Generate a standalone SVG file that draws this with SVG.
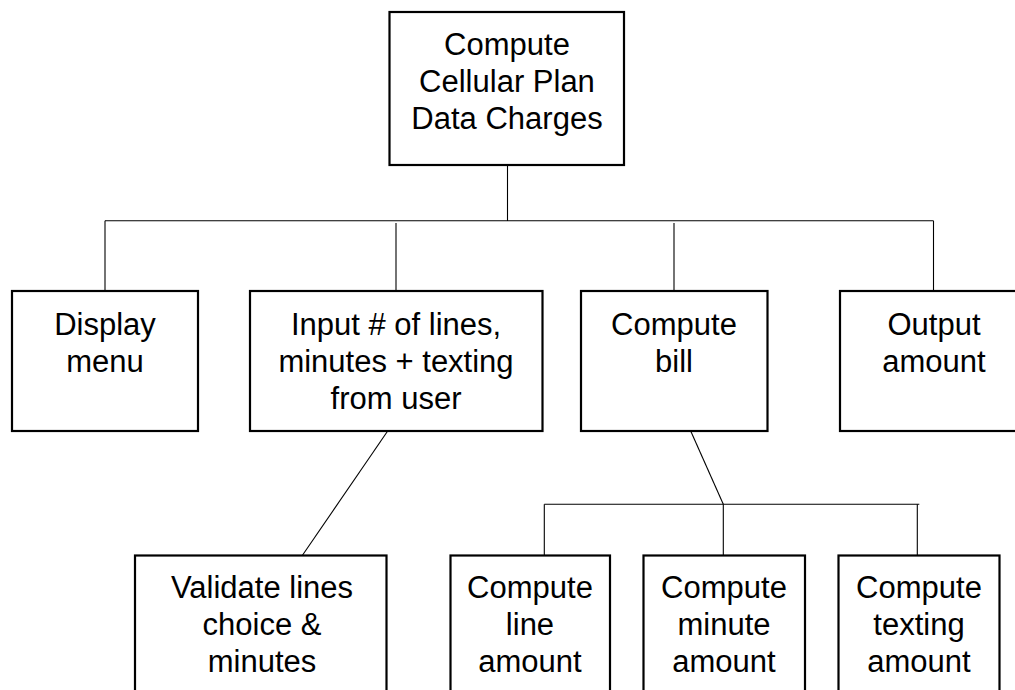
<svg xmlns="http://www.w3.org/2000/svg" width="1015" height="690" viewBox="0 0 1015 690">
  <style>
    .box { fill: #ffffff; stroke: #000000; stroke-width: 2.2; }
    .lbl { font-family: "Liberation Sans", Arial, Helvetica, sans-serif; font-size: 31px; fill: #000000; text-anchor: middle; }
    .wire { fill: none; stroke: #000000; stroke-width: 1.1; }
  </style>
  <rect width="1015" height="690" fill="#ffffff"/>

  <!-- connectors -->
  <g id="connectors">
    <path class="wire" d="M507.5 165 V221"/>
    <path class="wire" d="M105 220.8 H933.5"/>
    <path class="wire" d="M105 220.8 V291"/>
    <path class="wire" d="M396 223 V291"/>
    <path class="wire" d="M674 223 V291"/>
    <path class="wire" d="M933.5 220.8 V291"/>
    <path class="wire" d="M387.7 431 L302.3 555.5"/>
    <path class="wire" d="M690.7 431 L723.3 504.3"/>
    <path class="wire" d="M544.3 504.3 H919.3"/>
    <path class="wire" d="M544.3 504.3 V555.5"/>
    <path class="wire" d="M723.3 504.3 V555.5"/>
    <path class="wire" d="M917.3 504.3 V555.5"/>
  </g>

  <g id="root">
    <rect class="box" x="389.5" y="12" width="234.5" height="153"/>
    <text class="lbl" x="507" y="55">Compute</text>
    <text class="lbl" x="507" y="92">Cellular Plan</text>
    <text class="lbl" x="507" y="129">Data Charges</text>
  </g>

  <g id="display-menu">
    <rect class="box" x="12" y="291" width="186" height="140"/>
    <text class="lbl" x="105" y="335">Display</text>
    <text class="lbl" x="105" y="372">menu</text>
  </g>

  <g id="input">
    <rect class="box" x="250" y="291" width="292.5" height="140"/>
    <text class="lbl" x="396" y="335">Input # of lines,</text>
    <text class="lbl" x="396" y="372">minutes + texting</text>
    <text class="lbl" x="396" y="409">from user</text>
  </g>

  <g id="compute-bill">
    <rect class="box" x="581" y="291" width="186.5" height="140"/>
    <text class="lbl" x="674" y="335">Compute</text>
    <text class="lbl" x="674" y="372">bill</text>
  </g>

  <g id="output-amount">
    <rect class="box" x="840" y="291" width="200" height="140"/>
    <text class="lbl" x="934" y="335">Output</text>
    <text class="lbl" x="934" y="372">amount</text>
  </g>

  <g id="validate">
    <rect class="box" x="135" y="555.5" width="251.5" height="150"/>
    <text class="lbl" x="262" y="598">Validate lines</text>
    <text class="lbl" x="262" y="635">choice &amp;</text>
    <text class="lbl" x="262" y="672">minutes</text>
  </g>

  <g id="line-amount">
    <rect class="box" x="450.5" y="555.5" width="159.5" height="150"/>
    <text class="lbl" x="530" y="598">Compute</text>
    <text class="lbl" x="530" y="635">line</text>
    <text class="lbl" x="530" y="672">amount</text>
  </g>

  <g id="minute-amount">
    <rect class="box" x="643.5" y="555.5" width="161.5" height="150"/>
    <text class="lbl" x="724" y="598">Compute</text>
    <text class="lbl" x="724" y="635">minute</text>
    <text class="lbl" x="724" y="672">amount</text>
  </g>

  <g id="texting-amount">
    <rect class="box" x="838.5" y="555.5" width="161" height="150"/>
    <text class="lbl" x="919" y="598">Compute</text>
    <text class="lbl" x="919" y="635">texting</text>
    <text class="lbl" x="919" y="672">amount</text>
  </g>
</svg>
